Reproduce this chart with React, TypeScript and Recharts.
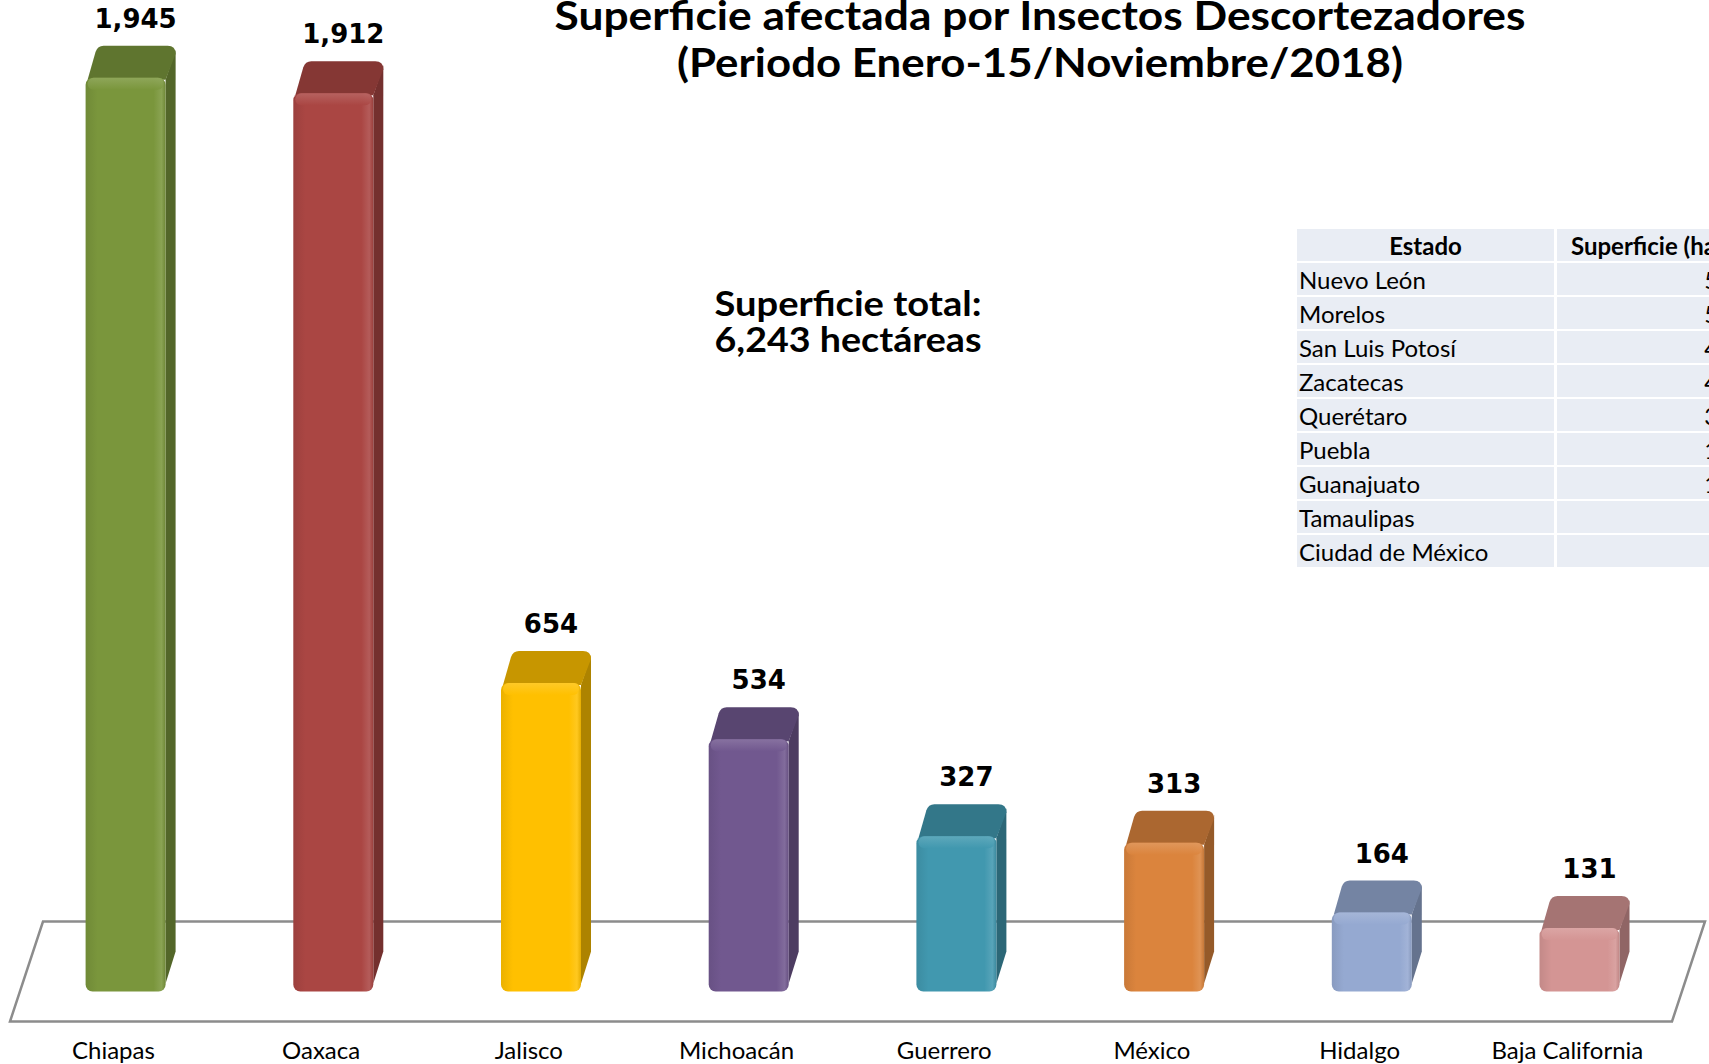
import { Bar, BarChart, LabelList, XAxis, YAxis } from "recharts"

const estados = ["Chiapas", "Oaxaca", "Jalisco", "Michoacán", "Guerrero", "México", "Hidalgo", "Baja California"]
const superficie = [1945, 1912, 654, 534, 327, 313, 164, 131]
const colores = ["#7A963C", "#AA4643", "#FFC000", "#71588F", "#4198AF", "#DB843D", "#95A9D1", "#D49594"]

const otrosEstados = [
  "Nuevo León",
  "Morelos",
  "San Luis Potosí",
  "Zacatecas",
  "Querétaro",
  "Puebla",
  "Guanajuato",
  "Tamaulipas",
  "Ciudad de México",
]
const otrosValores = [55, 52, 45, 41, 35, 15, 12, 5, 3]

const data = estados.map((estado, i) => ({ estado, valor: superficie[i] }))

const W = 1709
const H = 1064
const calibri = "Lato, 'Open Sans', sans-serif"

function shade(hex: string, f: number) {
  const n = parseInt(hex.slice(1), 16)
  const ch = (v: number) => Math.max(0, Math.min(255, Math.round(f > 1 ? v + (255 - v) * (f - 1) : v * f)))
  const r = ch((n >> 16) & 255)
  const g = ch((n >> 8) & 255)
  const b = ch(n & 255)
  return `rgb(${r},${g},${b})`
}

// 3D-ish column: value maps to the back top edge, face is shifted down/left
function Columna(props: any) {
  const { x, y, width, height, index } = props
  const c = colores[index]
  const d = 10
  const dy = 34
  const fw = width - d
  const id = `g${index}`
  return (
    <g>
      <defs>
        <linearGradient id={id} x1="0" y1="0" x2="1" y2="0">
          <stop offset="0" stopColor={shade(c, 0.92)} />
          <stop offset="0.15" stopColor={c} />
          <stop offset="0.85" stopColor={c} />
          <stop offset="0.95" stopColor={shade(c, 1.12)} />
          <stop offset="1" stopColor={shade(c, 0.9)} />
        </linearGradient>
        <linearGradient id={id + "t"} x1="0" y1="0" x2="0" y2="1">
          <stop offset="0" stopColor={shade(c, 1.18)} />
          <stop offset="1" stopColor={c} />
        </linearGradient>
      </defs>
      <path
        d={`M${x + fw},${y + dy} L${x + width},${y + 4} L${x + width},${y + height - 6} L${x + fw},${y + height + dy - 8} Z`}
        fill={shade(c, 0.68)}
      />
      <path
        d={`M${x + 2},${y + dy} L${x + d},${y + 6} Q${x + d + 2},${y} ${x + d + 8},${y} L${x + width - 8},${y} Q${x + width},${y} ${x + width},${y + 8} L${x + fw},${y + dy} Z`}
        fill={shade(c, 0.78)}
      />
      <rect x={x} y={y + dy - 2} width={fw} height={height + 2} rx={7} fill={`url(#${id})`} />
      <rect x={x + 2} y={y + dy - 2} width={fw - 4} height={12} rx={6} fill={`url(#${id}t)`} opacity={0.85} />
    </g>
  )
}

function Etiqueta(props: any) {
  const { x, y, value } = props
  return (
    <text
      x={x + 5}
      y={y - 18}
      textAnchor="middle"
      fontFamily="'DejaVu Sans', Verdana, sans-serif"
      fontWeight="bold"
      fontSize={26}
      fill="#000"
    >
      {value.toLocaleString("en-US")}
    </text>
  )
}

function Tick(props: any) {
  const { x, y, payload } = props
  return (
    <text x={x - 17} y={y + 101} textAnchor="middle" fontFamily={calibri} fontSize={24} fill="#000">
      {payload.value}
    </text>
  )
}

const celda = { padding: 0, background: "#E9EDF4", height: 32, whiteSpace: "nowrap" as const }

export default function App() {
  return (
    <div style={{ position: "absolute", left: 0, top: 0, width: W, height: H, overflow: "hidden", background: "#fff" }}>
      <svg width={W} height={H} style={{ position: "absolute", left: 0, top: 0 }}>
        <polygon points="43,921.5 1705,921.5 1672,1021.5 10,1021.5" fill="#fff" stroke="#8c8c8c" strokeWidth={2.5} />
      </svg>
      <div style={{ position: "absolute", left: 0, top: 0 }}>
        <BarChart width={W} height={H} data={data} margin={{ top: 19.9, right: 20.8, left: 26.6, bottom: 6.5 }}>
          <XAxis
            dataKey="estado"
            height={100}
            axisLine={false}
            tickLine={false}
            tickSize={0}
            tickMargin={0}
            interval={0}
            tick={<Tick />}
          />
          <YAxis hide domain={[0, 2000]} />
          <Bar dataKey="valor" barSize={90} shape={<Columna />} isAnimationActive={false}>
            <LabelList dataKey="valor" position="top" content={(p: any) => <Etiqueta x={p.x + p.width / 2} y={p.y} value={p.value} />} />
          </Bar>
        </BarChart>
      </div>
      <svg width={W} height={H} style={{ position: "absolute", left: 0, top: 0, pointerEvents: "none" }}>
        <text x={1040} y={30} textAnchor="middle" fontFamily={calibri} fontWeight="bold" fontSize={40} fill="#000" textLength={971} lengthAdjust="spacingAndGlyphs">
          Superficie afectada por Insectos Descortezadores
        </text>
        <text x={1040} y={77} textAnchor="middle" fontFamily={calibri} fontWeight="bold" fontSize={40} fill="#000" textLength={726} lengthAdjust="spacingAndGlyphs">
          (Periodo Enero-15/Noviembre/2018)
        </text>
        <text x={848} y={316} textAnchor="middle" fontFamily={calibri} fontWeight="bold" fontSize={34} fill="#000" textLength={267} lengthAdjust="spacingAndGlyphs">
          Superficie total:
        </text>
        <text x={848} y={352} textAnchor="middle" fontFamily={calibri} fontWeight="bold" fontSize={34} fill="#000" textLength={267} lengthAdjust="spacingAndGlyphs">
          6,243 hectáreas
        </text>
      </svg>
      <table
        style={{
          position: "absolute",
          left: 1294,
          top: 227,
          width: 445,
          tableLayout: "fixed",
          borderCollapse: "separate",
          borderSpacing: "3px 2px",
          fontFamily: calibri,
          fontSize: 24,
          color: "#000",
        }}
      >
        <colgroup>
          <col style={{ width: 257 }} />
          <col style={{ width: 179 }} />
        </colgroup>
        <tbody>
          <tr>
            <th style={{ ...celda, fontWeight: "bold", textAlign: "center" }}>Estado</th>
            <th style={{ ...celda, fontWeight: "bold", textAlign: "center" }}>Superficie (ha)</th>
          </tr>
          {otrosEstados.map((e, i) => (
            <tr key={e}>
              <td style={{ ...celda, paddingLeft: 2 }}>{e}</td>
              <td style={{ ...celda, paddingRight: 4, textAlign: "right" }}>{otrosValores[i]}</td>
            </tr>
          ))}
        </tbody>
      </table>
    </div>
  )
}
